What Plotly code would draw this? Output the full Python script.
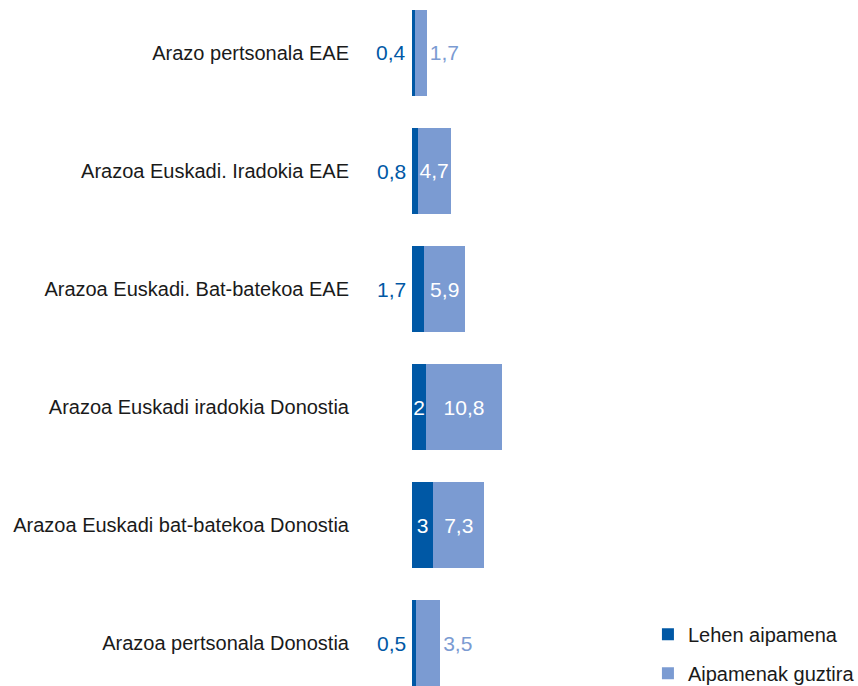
import plotly.graph_objects as go

categories = [
    "Arazo pertsonala EAE",
    "Arazoa Euskadi. Iradokia EAE",
    "Arazoa Euskadi. Bat-batekoa EAE",
    "Arazoa Euskadi iradokia Donostia",
    "Arazoa Euskadi bat-batekoa Donostia",
    "Arazoa pertsonala Donostia",
]
lehen = [0.4, 0.8, 1.7, 2, 3, 0.5]
guztira = [1.7, 4.7, 5.9, 10.8, 7.3, 3.5]
series_names = ["Lehen aipamena", "Aipamenak guztira"]

DARK = "#0058A5"
LIGHT = "#7B9BD2"
FONT = "Liberation Sans, Arial, sans-serif"
VAL_SIZE = 21


def fmt(v):
    return ("%g" % v).replace(".", ",")


dark_threshold = 2
light_threshold = 4
dark_text = [fmt(v) if v >= dark_threshold else "" for v in lehen]
light_pos = ["inside" if v >= light_threshold else "outside" for v in guztira]

fig = go.Figure()
fig.add_trace(go.Bar(
    y=categories, x=lehen, orientation="h", name=series_names[0],
    legendgroup="a",
    marker=dict(color=DARK, line=dict(width=0)),
    text=dark_text, textposition="inside", insidetextanchor="middle",
    textangle=0, constraintext="none",
    insidetextfont=dict(color="white", size=VAL_SIZE, family=FONT),
    cliponaxis=False, hoverinfo="skip",
))
fig.add_trace(go.Bar(
    y=categories, x=guztira, orientation="h", name=series_names[1],
    legendgroup="b",
    marker=dict(color=LIGHT, line=dict(width=0)),
    text=[fmt(v) for v in guztira], textposition=light_pos,
    insidetextanchor="middle", textangle=0, constraintext="none",
    insidetextfont=dict(color="white", size=VAL_SIZE, family=FONT),
    outsidetextfont=dict(color=LIGHT, size=VAL_SIZE, family=FONT),
    cliponaxis=False, hoverinfo="skip",
))

for c, v in zip(categories, lehen):
    if v < dark_threshold:
        fig.add_annotation(x=0, y=c, text=fmt(v), showarrow=False,
                           xanchor="right", xshift=-4,
                           font=dict(color=DARK, size=VAL_SIZE, family=FONT))

n = len(categories)
fig.update_layout(
    width=858, height=686,
    barmode="stack", bargap=0.27,
    margin=dict(l=412, r=0, t=0, b=0, autoexpand=False),
    plot_bgcolor="white", paper_bgcolor="white",
    font=dict(family=FONT, size=20, color="#1a1a1a"),
    showlegend=True,
    legend=dict(x=0.529, y=-0.01, xanchor="left", yanchor="bottom",
                traceorder="grouped", tracegroupgap=10,
                font=dict(size=20, color="#1a1a1a", family=FONT),
                itemwidth=30, bgcolor="rgba(0,0,0,0)"),
    xaxis=dict(range=[0, 63.4], visible=False, showgrid=False, zeroline=False),
    yaxis=dict(categoryorder="array", categoryarray=categories,
               range=[n - 1 + 0.364, -0.449], showgrid=False, zeroline=False,
               showline=False, ticks="", ticklabelstandoff=62, automargin=False,
               tickfont=dict(size=20, color="#1a1a1a", family=FONT)),
)

fig.write_html("out.html", config={"displayModeBar": False},
               post_script="document.body.style.margin='0';")
